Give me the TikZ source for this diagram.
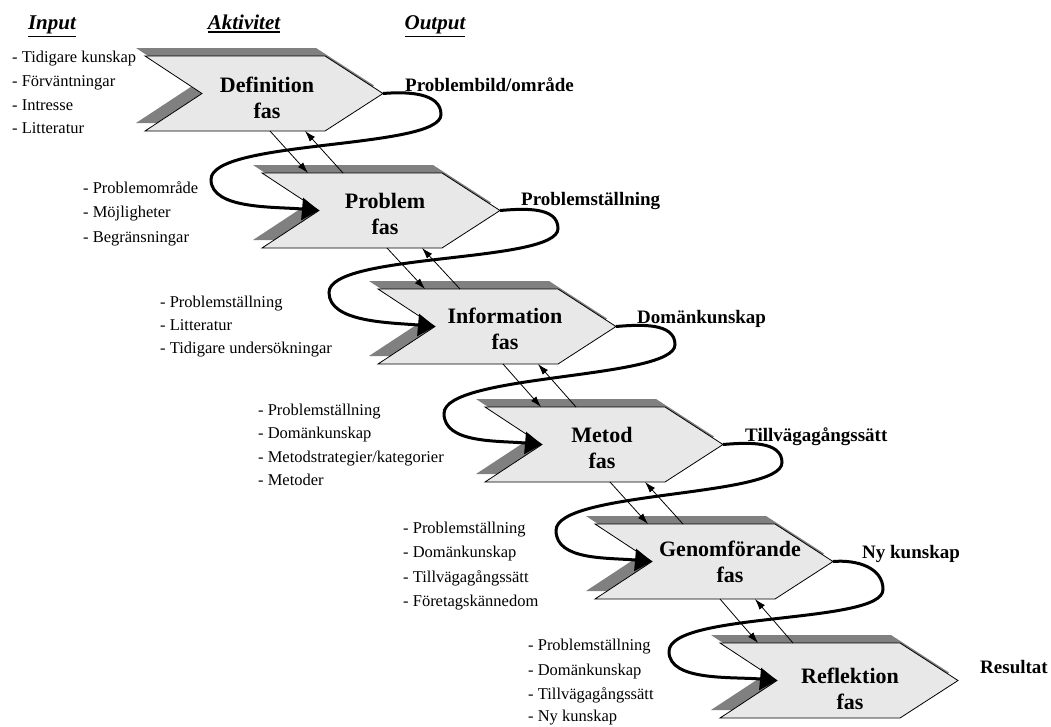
\documentclass[tikz,border=0pt]{standalone}
\usepackage{fontspec}
\setmainfont{Liberation Serif}
\usetikzlibrary{arrows.meta,calc}

% underlined heading word with a heavier rule
\newcommand{\ulword}[1]{\leavevmode\vtop{\hbox{#1}\kern2.2pt\hrule height 1.3pt}}

\definecolor{phasefill}{RGB}{232,232,232}
\definecolor{phaseshade}{RGB}{128,128,128}

\tikzset{
  phasebox/.style={fill=phasefill, draw=black, line width=0.8pt, line join=miter},
  phaseshadow/.style={fill=phaseshade},
  phasetext/.style={font=\fontsize{22}{26}\selectfont\bfseries, align=center, inner sep=0pt},
  heading/.style={font=\fontsize{21}{24}\selectfont\bfseries\itshape, anchor=base, inner sep=0pt},
  inlist/.style={font=\fontsize{16.5}{19}\selectfont, anchor=base west, inner sep=0pt},
  outlabel/.style={font=\fontsize{19}{22}\selectfont\bfseries, anchor=base west, inner sep=0pt},
  flow/.style={-{Latex[length=11pt,width=7pt]}, line width=0.8pt},
  feedback/.style={line width=3pt, -{Triangle[length=17pt,width=22pt]}},
}

\begin{document}
\begin{tikzpicture}[x=1pt,y=-1pt]
\useasboundingbox (0,0) rectangle (1051,726);

% column headings
\node[heading] (hin)  at (52,29)  {\ulword{Input}};
\node[heading] (hakt) at (244,29) {\ulword{Aktivitet}};
\node[heading] (hout) at (435,29) {\ulword{Output}};

% phase chevrons with their drop shadows
\foreach \name/\L/\T/\tx/\ty/\ptext in {
  def/145/56/267/98/Definition,
  prob/262/173/385/214/Problem,
  info/378/289/505/329/Information,
  met/485/407/602/448/Metod,
  gen/595/524/730/562/Genomförande,
  ref/720/643/850/689/Reflektion}{
  \fill[phaseshadow, shift={(-9,-8)}] (\L,\T) -- ++(180,0) -- ++(58,37.5) -- ++(-58,37.5)
       -- ++(-180,0) -- ++(57,-37.5) -- cycle;
  \draw[phasebox] (\L,\T) -- ++(180,0) -- ++(58,37.5) -- ++(-58,37.5)
       -- ++(-180,0) -- ++(57,-37.5) -- cycle;
  \coordinate (\name-tip) at (\L+238,\T+37.5);
  \coordinate (\name-notch) at (\L+57,\T+37.5);
  \node[phasetext] (\name) at (\tx,\ty) {\ptext\\fas};
}

% thin exchange arrows between consecutive phases
\foreach \u/\L/\T/\Tn in {def/145/56/173, prob/262/173/289, info/378/289/407, met/485/407/524, gen/595/524/643}{
  \coordinate (\u-dn-a) at (\L+125,\T+75);
  \coordinate (\u-dn-b) at (\L+163,\Tn);
  \coordinate (\u-up-a) at (\L+198,\Tn);
  \coordinate (\u-up-b) at (\L+160,\T+75);
  \draw[flow] (\u-dn-a) -- (\u-dn-b);
  \draw[flow] (\u-up-a) -- (\u-up-b);
}

% feedback loops from each phase output into the next phase
\foreach \u/\l/\bx/\by/\dx/\dy in {
  def/prob/58/21/-108/-31,
  prob/info/58/18/-106/-34,
  info/met/59/18/-98/-31,
  met/gen/59/18/-96/-31,
  gen/ref/50/28/-108/-29}{
  \coordinate (\u-lobe) at ($(\u-tip)+(\bx,\by)$);
  \coordinate (\u-turn) at ($(\l-notch)+(\dx,\dy)$);
  \draw[feedback] (\u-tip)
    .. controls ($(\u-tip)+(24,-2)$) and ($(\u-lobe)+(0,-22)$) .. (\u-lobe)
    .. controls ($(\u-lobe)+(0,35)$) and ($(\u-turn)+(0,-40)$) .. (\u-turn)
    .. controls ($(\u-turn)+(0,30)$) and ($(\l-notch)+(-45,-4)$) .. (\l-notch);
}

% inputs
\node[inlist] (in1a) at (12,62)  {- Tidigare kunskap};
\node[inlist] (in1b) at (12,86)  {- Förväntningar};
\node[inlist] (in1c) at (12,110) {- Intresse};
\node[inlist] (in1d) at (12,133) {- Litteratur};

\node[inlist] (in2a) at (83,193) {- Problemområde};
\node[inlist] (in2b) at (83,217) {- Möjligheter};
\node[inlist] (in2c) at (83,242) {- Begränsningar};

\node[inlist] (in3a) at (160,307) {- Problemställning};
\node[inlist] (in3b) at (160,330) {- Litteratur};
\node[inlist] (in3c) at (160,353) {- Tidigare undersökningar};

\node[inlist] (in4a) at (258,415) {- Problemställning};
\node[inlist] (in4b) at (258,438) {- Domänkunskap};
\node[inlist] (in4c) at (258,462) {- Metodstrategier/kategorier};
\node[inlist] (in4d) at (258,485) {- Metoder};

\node[inlist] (in5a) at (403,533) {- Problemställning};
\node[inlist] (in5b) at (403,557) {- Domänkunskap};
\node[inlist] (in5c) at (403,582) {- Tillvägagångssätt};
\node[inlist] (in5d) at (403,606) {- Företagskännedom};

\node[inlist] (in6a) at (528,650) {- Problemställning};
\node[inlist] (in6b) at (528,675) {- Domänkunskap};
\node[inlist] (in6c) at (528,699) {- Tillvägagångssätt};
\node[inlist] (in6d) at (528,721) {- Ny kunskap};

% outputs
\node[outlabel] (out1) at (405,91)  {Problembild/område};
\node[outlabel] (out2) at (521,205) {Problemställning};
\node[outlabel] (out3) at (637,323) {Domänkunskap};
\node[outlabel] (out4) at (745,441) {Tillvägagångssätt};
\node[outlabel] (out5) at (862,558) {Ny kunskap};
\node[outlabel] (out6) at (980,673) {Resultat};
\end{tikzpicture}
\end{document}
